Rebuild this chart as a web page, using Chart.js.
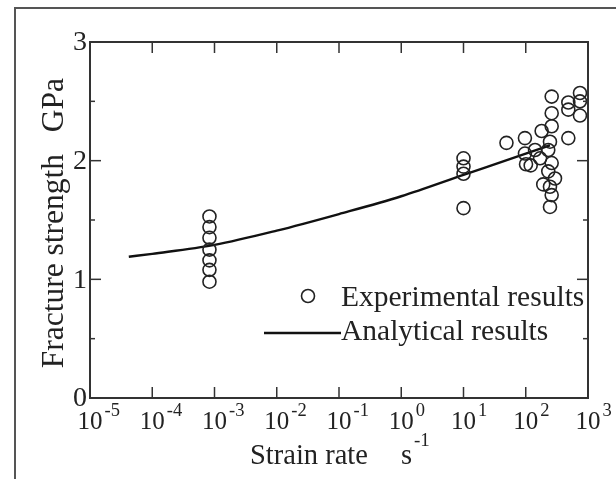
<!DOCTYPE html>
<html>
<head>
<meta charset="utf-8">
<script src="https://cdn.jsdelivr.net/npm/chart.js@4.4.1/dist/chart.umd.min.js"></script>
<style>
  html, body { margin: 0; padding: 0; background: #fff; }
  #wrap { position: relative; width: 616px; height: 479px; overflow: hidden; }
  #frame { position: absolute; left: 14px; top: 7px; width: 700px; height: 600px;
           border-top: 2px solid #555; border-left: 2px solid #555; }
  #fracChart { position: absolute; left: 0; top: 0; }
</style>
</head>
<body>
<div id="wrap">
  <div id="frame"></div>
  <canvas id="fracChart" width="616" height="479"></canvas>
</div>
<script>
// Experimental results (strain rate in 1/s, strength in GPa)
const expStrainRate = [
  8.3e-4, 8.3e-4, 8.3e-4, 8.3e-4, 8.3e-4, 8.3e-4, 8.3e-4,
  10, 10, 10, 10,
  49,
  97, 97, 101, 120, 141, 170, 180, 191,
  230, 230, 245, 245, 245,
  261, 261, 261, 261, 261, 295,
  483, 483, 483,
  743, 743, 743
];
const expStrength = [
  1.53, 1.44, 1.35, 1.25, 1.16, 1.08, 0.98,
  2.02, 1.95, 1.89, 1.60,
  2.15,
  2.19, 2.06, 1.97, 1.96, 2.09, 2.02, 2.25, 1.80,
  2.09, 1.91, 2.16, 1.78, 1.61,
  2.54, 2.40, 2.29, 1.98, 1.71, 1.85,
  2.49, 2.43, 2.19,
  2.57, 2.50, 2.38
];

// Analytical curve
const anaStrainRate = [4.2e-5, 1e-4, 1e-3, 1e-2, 1e-1, 1, 10, 100, 245];
const anaStrength   = [1.19, 1.215, 1.29, 1.41, 1.55, 1.70, 1.88, 2.06, 2.13];

// Axis ticks
const xTickExponents = [-5, -4, -3, -2, -1, 0, 1, 2, 3];
const yTickValues = [0, 1, 2, 3];
const yMinorValues = [0.5, 1.5, 2.5];

const serif = "'Liberation Serif', 'DejaVu Serif', serif";
const ink = '#222';

// Frame, inward ticks, tick labels, axis titles and legend
const paperStyle = {
  id: 'paperStyle',
  afterDraw(chart) {
    const { ctx, chartArea: a, scales: { x, y } } = chart;
    const line = (x1, y1, x2, y2) => {
      ctx.beginPath(); ctx.moveTo(x1, y1); ctx.lineTo(x2, y2); ctx.stroke();
    };
    ctx.save();
    ctx.strokeStyle = '#333';
    ctx.lineWidth = 2;
    ctx.strokeRect(a.left, a.top, a.right - a.left, a.bottom - a.top);

    ctx.lineWidth = 1.5;
    xTickExponents.forEach(e => {
      const px = x.getPixelForValue(Math.pow(10, e));
      line(px, a.bottom, px, a.bottom - 11);
      line(px, a.top, px, a.top + 11);
    });
    yTickValues.forEach(v => {
      const py = y.getPixelForValue(v);
      line(a.left, py, a.left + 11, py);
      line(a.right, py, a.right - 11, py);
    });
    yMinorValues.forEach(v => {
      const py = y.getPixelForValue(v);
      line(a.left, py, a.left + 5, py);
      line(a.right, py, a.right - 5, py);
    });

    ctx.fillStyle = ink;
    // y tick labels
    ctx.font = '28px ' + serif;
    ctx.textAlign = 'right';
    ctx.textBaseline = 'middle';
    yTickValues.forEach(v => {
      ctx.fillText(String(v), a.left - 3, y.getPixelForValue(v) + 1);
    });

    // x tick labels: "10" centred on the tick, exponent raised to the right
    ctx.textBaseline = 'alphabetic';
    xTickExponents.forEach(e => {
      const px = x.getPixelForValue(Math.pow(10, e));
      ctx.font = '25px ' + serif;
      ctx.textAlign = 'center';
      ctx.fillText('10', px, a.bottom + 31);
      const w = ctx.measureText('10').width;
      ctx.font = '18.5px ' + serif;
      ctx.textAlign = 'left';
      ctx.fillText(e < 0 ? '-' + Math.abs(e) : String(e), px + w / 2 + 2, a.bottom + 18);
    });

    // x axis title
    ctx.font = '28.5px ' + serif;
    ctx.textAlign = 'left';
    ctx.fillText('Strain rate', 250, a.bottom + 66);
    ctx.fillText('s', 401, a.bottom + 66);
    ctx.font = '19px ' + serif;
    ctx.fillText('-1', 414, a.bottom + 48);

    // y axis title
    ctx.save();
    ctx.translate(63, 0);
    ctx.rotate(-Math.PI / 2);
    ctx.font = '31.5px ' + serif;
    ctx.textAlign = 'right';
    ctx.fillText('GPa', -78, 0);
    ctx.fillText('Fracture strength', -154, 0);
    ctx.restore();

    // legend
    const expDs = chart.data.datasets[0];
    const anaDs = chart.data.datasets[1];
    ctx.strokeStyle = expDs.borderColor;
    ctx.lineWidth = expDs.borderWidth;
    ctx.beginPath();
    ctx.arc(308, 296, expDs.pointRadius, 0, Math.PI * 2);
    ctx.stroke();
    ctx.strokeStyle = anaDs.borderColor;
    ctx.lineWidth = anaDs.borderWidth;
    line(264, 333, 341, 333);
    ctx.font = '29.5px ' + serif;
    ctx.textAlign = 'left';
    ctx.textBaseline = 'middle';
    ctx.fillText(expDs.label, 341, 298);
    ctx.fillText(anaDs.label, 341, 332);
    ctx.restore();
  }
};

new Chart(document.getElementById('fracChart'), {
  type: 'scatter',
  data: {
    datasets: [
      {
        label: 'Experimental results',
        data: expStrainRate.map((r, i) => ({ x: r, y: expStrength[i] })),
        showLine: false,
        pointRadius: 6.5,
        pointHoverRadius: 6.5,
        pointBackgroundColor: 'rgba(0,0,0,0)',
        borderColor: ink,
        borderWidth: 1.6
      },
      {
        label: 'Analytical results',
        data: anaStrainRate.map((r, i) => ({ x: r, y: anaStrength[i] })),
        showLine: true,
        pointRadius: 0,
        borderColor: '#111',
        borderWidth: 2.4,
        tension: 0.4,
        cubicInterpolationMode: 'monotone',
        fill: false
      }
    ]
  },
  options: {
    responsive: false,
    animation: false,
    devicePixelRatio: 1,
    layout: { padding: { left: 90, top: 42, right: 28, bottom: 81 } },
    plugins: { legend: { display: false }, tooltip: { enabled: false } },
    scales: {
      x: {
        type: 'logarithmic',
        min: 1e-5,
        max: 1e3,
        grid: { display: false, drawTicks: false },
        border: { display: false },
        ticks: { display: false }
      },
      y: {
        min: 0,
        max: 3,
        grid: { display: false, drawTicks: false },
        border: { display: false },
        ticks: { display: false }
      }
    }
  },
  plugins: [paperStyle]
});
</script>
</body>
</html>
